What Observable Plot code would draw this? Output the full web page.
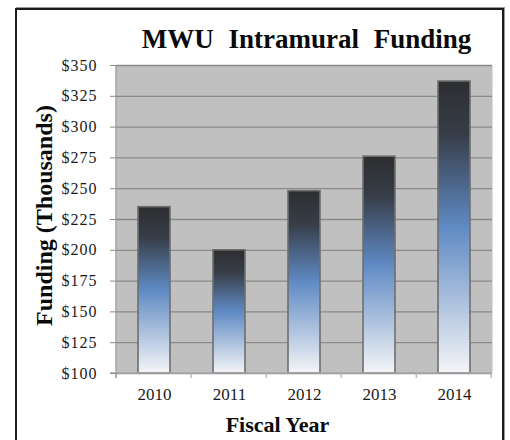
<!DOCTYPE html>
<html>
<head>
<meta charset="utf-8">
<script src="https://cdn.jsdelivr.net/npm/d3@7"></script>
<script src="https://cdn.jsdelivr.net/npm/@observablehq/plot@0.6"></script>
<style>
  html, body { margin: 0; padding: 0; background: #fff; }
  #wrap { position: relative; width: 510px; height: 440px; overflow: hidden; }
  #border { position: absolute; left: 15px; top: 8px; width: 485px; height: 500px;
            border: 2px solid #1a1a1a; box-shadow: 1px -1px 0 #9a9a9a; pointer-events: none; }
  g[aria-label="y-axis tick label"] text { letter-spacing: 1px; }
</style>
</head>
<body>
<div id="wrap"><div id="border"></div></div>
<script>
const titleText = "MWU Intramural Funding";
const xLabel = "Fiscal Year";
const yLabel = "Funding (Thousands)";
const years = ["2010", "2011", "2012", "2013", "2014"];
const funding = [235, 200, 248, 276, 337];
const yTicks = [100, 125, 150, 175, 200, 225, 250, 275, 300, 325, 350];
const yDomain = [100, 350];

const data = years.map((year, i) => ({year, value: funding[i]}));
const serif = "'Liberation Serif', 'Times New Roman', serif";
const PAD = 0.58;

const defsMark = () => {
  const defs = d3.create("svg:defs");
  const g = defs.append("linearGradient").attr("id", "barGrad")
    .attr("x1", 0).attr("y1", 0).attr("x2", 0).attr("y2", 1);
  [[0, "#2d2e31"], [0.18, "#373d47"], [0.5, "#5f8ac4"], [0.78, "#b3c6e0"], [1, "#f4f5f7"]]
    .forEach(([o, c]) => g.append("stop").attr("offset", o).attr("stop-color", c));
  return defs.node();
};

const axisLines = (index, scales, values, dim) => {
  const x = scales.x;
  const step = x(years[1]) - x(years[0]);
  const bottom = dim.height - dim.marginBottom;
  const g = d3.create("svg:g");
  g.append("line").attr("x1", dim.marginLeft - 6).attr("x2", dim.width - dim.marginRight)
    .attr("y1", bottom).attr("y2", bottom).attr("stroke", "#a8a8a8").attr("stroke-width", 1.3);
  const bounds = years.map(d => x(d) - step * PAD / 2);
  bounds.push(bounds[bounds.length - 1] + step);
  bounds.forEach(b => g.append("line").attr("x1", b).attr("x2", b)
    .attr("y1", bottom).attr("y2", bottom + 5).attr("stroke", "#b0b0b0").attr("stroke-width", 1.2));
  g.append("line").attr("x1", dim.marginLeft).attr("x2", dim.marginLeft)
    .attr("y1", dim.marginTop).attr("y2", bottom + 5).attr("stroke", "#9a9a9a").attr("stroke-width", 1.4);
  return g.node();
};

const chart = Plot.plot({
  width: 510,
  height: 440,
  marginLeft: 116,
  marginRight: 18,
  marginTop: 65,
  marginBottom: 67,
  style: {fontFamily: serif, color: "#1a1a1a", background: "transparent"},
  x: {domain: years, paddingInner: PAD, paddingOuter: PAD / 2, axis: null},
  y: {domain: yDomain, axis: null},
  marks: [
    Plot.frame({fill: "#c0c0c0", stroke: null}),
    defsMark,
    Plot.ruleY(yTicks, {y: d => d, stroke: "#8a8a8a", strokeWidth: 1.3}),
    Plot.barY(data, {x: "year", y1: yDomain[0], y2: "value", fill: "url(#barGrad)", stroke: "#6e6e6e", strokeWidth: 1.6}),
    axisLines,
    Plot.axisY(yTicks, {tickSize: 6, tickPadding: 13, stroke: "#8a8a8a", fill: "#1a1a1a", label: null,
      tickFormat: d => "$" + d, fontSize: 16, fontFamily: serif}),
    Plot.axisX({tickSize: 0, tickPadding: 14, fill: "#1a1a1a", fontSize: 17, fontFamily: serif, label: null}),
    Plot.text([titleText], {frameAnchor: "top", textAnchor: "middle", dx: 2, dy: -18, lineAnchor: "bottom",
      fontSize: 27, fontWeight: "bold", fontFamily: serif, fill: "#0a0a0a"}),
    Plot.text([yLabel], {frameAnchor: "left", textAnchor: "middle", rotate: -90, dx: -72, dy: -4, lineAnchor: "middle",
      fontSize: 24, fontWeight: "bold", fontFamily: serif, fill: "#0a0a0a"}),
    Plot.text([xLabel], {frameAnchor: "bottom", textAnchor: "middle", dx: -27, dy: 58, lineAnchor: "bottom",
      fontSize: 22, fontWeight: "bold", fontFamily: serif, fill: "#0a0a0a"})
  ]
});
d3.select(chart).selectAll("text").filter(function() { return this.textContent === titleText; })
  .style("word-spacing", "8px");
chart.style.position = "absolute";
chart.style.left = "0px";
chart.style.top = "0px";
document.getElementById("wrap").insertBefore(chart, document.getElementById("border"));
</script>
</body>
</html>
